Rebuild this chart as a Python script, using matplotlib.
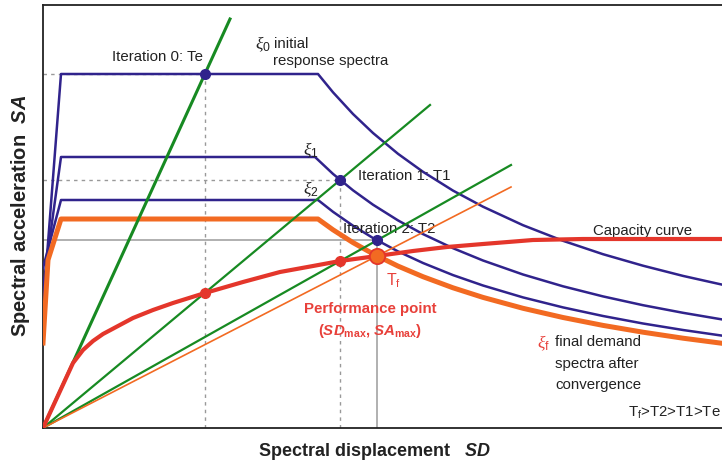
import matplotlib
matplotlib.use('Agg')
import matplotlib.pyplot as plt

plt.rcParams['font.family'] = ['Liberation Sans', 'DejaVu Sans']
plt.rcParams['mathtext.fontset'] = 'custom'
plt.rcParams['mathtext.rm'] = 'Liberation Sans'
plt.rcParams['mathtext.it'] = 'Liberation Serif:italic'
plt.rcParams['mathtext.bf'] = 'Liberation Sans:bold'
plt.rcParams['mathtext.bfit'] = 'Liberation Sans:italic:bold'

# demand spectra (ADRS), arbitrary units: SD on x, SA on y
sd_spec = [0, 18, 275, 290, 310, 330, 355, 380, 410, 440, 480, 520, 560, 600, 640, 683]
sa_xi0 = [120, 354, 354, 335.7, 314.0, 295.0, 274.2, 256.2, 237.4, 221.3, 202.8, 187.2, 173.8, 162.3, 152.1, 142.5]
sd_xi1 = [0, 18, 272, 290, 310, 330, 355, 380, 410, 440, 480, 520, 560, 600, 640, 683]
sa_xi1 = [140, 271, 271, 254.1, 237.7, 223.3, 207.6, 193.9, 179.8, 167.5, 153.5, 141.7, 131.6, 122.8, 115.2, 107.9]
sa_xi2 = [160, 228, 228, 216.2, 202.3, 190.0, 176.6, 165.0, 152.9, 142.5, 130.6, 120.6, 112.0, 104.5, 98.0, 91.8]
sd_xif = [0, 5, 18, 275, 290, 310, 330, 355, 380, 410, 440, 480, 520, 560, 600, 640, 683]
sa_xif = [85, 168, 209, 209, 198.2, 185.4, 174.2, 161.9, 151.3, 140.2, 130.6, 119.7, 110.5, 102.6, 95.8, 89.8, 84.2]

# capacity curve
sd_cap = [0, 30, 40, 50, 60, 75, 90, 110, 130, 162, 200, 237, 270, 297, 334, 370, 404, 440, 490, 540, 600, 683]
sa_cap = [0, 65, 78, 87, 94, 102, 110, 118, 125, 135, 146, 156, 162, 167, 172, 177, 181, 184, 188, 189, 189, 189]

# secant period lines (end points)
sd_te, sa_te = [0, 187], [0, 409]
sd_t1, sa_t1 = [0, 387], [0, 323]
sd_t2, sa_t2 = [0, 468], [0, 263]
sd_tf, sa_tf = [0, 468], [0, 241]

# iteration points
it_sd = [162, 297, 334]
it_sa = [354, 248, 188]
cap_pts_sd = [162, 297]
cap_pts_sa = [135, 167]
perf_sd, perf_sa = 334, 172

blue = '#30238c'
green = '#178a22'
red = '#e4362b'
orange = '#f26a22'
txt = '#222222'
red_txt = '#e8403a'

fig = plt.figure(figsize=(7.22, 4.67), dpi=100)
ax = fig.add_axes([43 / 722, 39 / 467, 683 / 722, 423 / 467])
ax.set_xlim(0, 683)
ax.set_ylim(0, 423)
ax.set_xticks([])
ax.set_yticks([])
for s in ax.spines.values():
    s.set_color('#222222')
    s.set_linewidth(1.3)

# guide lines
dot = dict(color='#999999', lw=1.0, ls=(0, (2.5, 3)), zorder=1)
ax.plot([0, it_sd[0]], [it_sa[0], it_sa[0]], **dot)
ax.plot([it_sd[0], it_sd[0]], [0, it_sa[0]], **dot)
ax.plot([0, it_sd[1]], [it_sa[1], it_sa[1]], **dot)
ax.plot([it_sd[1], it_sd[1]], [0, it_sa[1]], **dot)
ax.plot([0, it_sd[2]], [it_sa[2], it_sa[2]], color='#aaaaaa', lw=1.3, zorder=1)
ax.plot([perf_sd, perf_sd], [0, it_sa[2]], color='#aaaaaa', lw=1.3, zorder=1)

# spectra
ax.plot(sd_spec, sa_xi0, color=blue, lw=1.8, zorder=3)
ax.plot(sd_xi1, sa_xi1, color=blue, lw=1.8, zorder=3)
ax.plot(sd_spec, sa_xi2, color=blue, lw=1.8, zorder=3)
ax.plot(sd_xif, sa_xif, color=orange, lw=3.6, zorder=3, solid_joinstyle='round')

# period lines
ax.plot(sd_te, sa_te, color=green, lw=2.2, zorder=4)
ax.plot(sd_t1, sa_t1, color=green, lw=1.6, zorder=4)
ax.plot(sd_t2, sa_t2, color=green, lw=1.6, zorder=4)
ax.plot(sd_tf, sa_tf, color=orange, lw=1.2, zorder=4)

# capacity
ax.plot(sd_cap, sa_cap, color=red, lw=3.0, zorder=5, solid_capstyle='round')

ax.plot(it_sd, it_sa, 'o', color=blue, ms=7, zorder=6)
ax.plot(cap_pts_sd, cap_pts_sa, 'o', color=red, ms=7, zorder=6)
ax.plot([perf_sd], [perf_sa], 'o', color=orange, mec=red, mew=1.3, ms=11, zorder=7)

# labels
fs = 10.8
xs = 12.5
ax.text(69, 371, 'Iteration 0: Te', fontsize=fs, color=txt, va='center')
ax.text(212, 384, r'$\xi_0$', fontsize=xs, color=txt, va='center')
ax.text(231, 384, 'initial', fontsize=fs, color=txt, va='center')
ax.text(230, 367, 'response spectra', fontsize=fs, color=txt, va='center')
ax.text(260, 278, r'$\xi_1$', fontsize=xs, color=txt, va='center')
ax.text(260, 239, r'$\xi_2$', fontsize=xs, color=txt, va='center')
ax.text(315, 252, 'Iteration 1: T1', fontsize=fs, color=txt, va='center')
ax.text(300, 199, 'Iteration 2: T2', fontsize=fs, color=txt, va='center')
ax.text(550, 197, 'Capacity curve', fontsize=fs, color=txt, va='center')
ax.text(343, 147, r'T$_\mathrm{f}$', fontsize=11.5, color=red_txt, va='center')
ax.text(327, 119, 'Performance point', fontsize=fs, color=red_txt, va='center',
        ha='center', fontweight='bold')
ax.text(327, 97, r'($\mathbfit{SD}_\mathbf{max}$, $\mathbfit{SA}_\mathbf{max}$)', fontsize=fs,
        color=red_txt, va='center', ha='center', fontweight='bold')
ax.text(494, 85, r'$\xi_\mathrm{f}$', fontsize=xs, color=red_txt, va='center')
ax.text(512, 86, 'final demand', fontsize=fs, color=txt, va='center')
ax.text(512, 64, 'spectra after', fontsize=fs, color=txt, va='center')
ax.text(512, 43, 'convergence', fontsize=fs, color=txt, va='center')
ax.text(585, 15, r'T$_\mathrm{f}$>T2>T1>Te', fontsize=fs, color=txt, va='center')

fig.text(374 / 722, 1 - 452 / 467, r'Spectral displacement   $\mathbfit{SD}$',
         fontsize=13, fontweight='bold', color=txt, ha='center', va='center')
fig.text(21 / 722, 1 - 216 / 467, r'Spectral acceleration  $\mathbfit{SA}$',
         fontsize=14.5, fontweight='bold', color=txt, ha='center', va='center', rotation=90)

fig.savefig('out.png', dpi=100)
